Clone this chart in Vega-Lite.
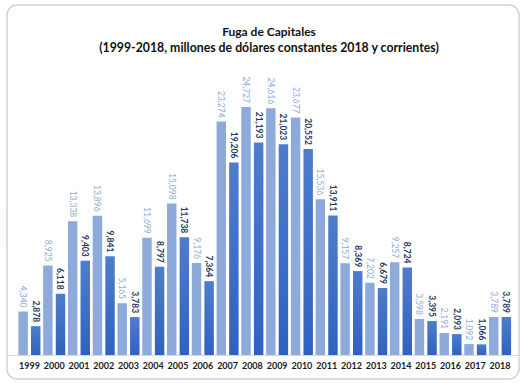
{
  "$schema": "https://vega.github.io/schema/vega-lite/v6.json",
  "width": 512,
  "height": 374,
  "autosize": {"type": "none"},
  "padding": {"left": 7, "top": 5, "right": 4, "bottom": 4},
  "background": "white",
  "config": {
    "font": "Lato",
    "view": {"stroke": "#d2d2d2", "strokeWidth": 1.5, "cornerRadius": 10}
  },
  "title": {
    "text": "Fuga de Capitales\u2002\u2002\u2002\u2002\u2002\u2002\u2002\u2002\u2002\u2002",
    "subtitle": "(1999-2018, millones de dólares constantes 2018 y corrientes)",
    "frame": "group",
    "anchor": "middle",
    "orient": "top",
    "offset": -50,
    "dx": 6,
    "font": "Lato",
    "fontSize": 12,
    "fontWeight": "bold",
    "color": "#111111",
    "subtitleFont": "Lato",
    "subtitleFontSize": 12.3,
    "subtitleFontWeight": "bold",
    "subtitleColor": "#111111",
    "subtitlePadding": 3
  },
  "data": {
    "values": [
      {"year": "1999", "serie": "constantes", "valor": 4340},
      {"year": "1999", "serie": "corrientes", "valor": 2878},
      {"year": "2000", "serie": "constantes", "valor": 8925},
      {"year": "2000", "serie": "corrientes", "valor": 6118},
      {"year": "2001", "serie": "constantes", "valor": 13338},
      {"year": "2001", "serie": "corrientes", "valor": 9403},
      {"year": "2002", "serie": "constantes", "valor": 13896},
      {"year": "2002", "serie": "corrientes", "valor": 9841},
      {"year": "2003", "serie": "constantes", "valor": 5165},
      {"year": "2003", "serie": "corrientes", "valor": 3783},
      {"year": "2004", "serie": "constantes", "valor": 11699},
      {"year": "2004", "serie": "corrientes", "valor": 8797},
      {"year": "2005", "serie": "constantes", "valor": 15098},
      {"year": "2005", "serie": "corrientes", "valor": 11738},
      {"year": "2006", "serie": "constantes", "valor": 9176},
      {"year": "2006", "serie": "corrientes", "valor": 7364},
      {"year": "2007", "serie": "constantes", "valor": 23274},
      {"year": "2007", "serie": "corrientes", "valor": 19206},
      {"year": "2008", "serie": "constantes", "valor": 24727},
      {"year": "2008", "serie": "corrientes", "valor": 21193},
      {"year": "2009", "serie": "constantes", "valor": 24616},
      {"year": "2009", "serie": "corrientes", "valor": 21023},
      {"year": "2010", "serie": "constantes", "valor": 23677},
      {"year": "2010", "serie": "corrientes", "valor": 20552},
      {"year": "2011", "serie": "constantes", "valor": 15536},
      {"year": "2011", "serie": "corrientes", "valor": 13911},
      {"year": "2012", "serie": "constantes", "valor": 9157},
      {"year": "2012", "serie": "corrientes", "valor": 8369},
      {"year": "2013", "serie": "constantes", "valor": 7202},
      {"year": "2013", "serie": "corrientes", "valor": 6679},
      {"year": "2014", "serie": "constantes", "valor": 9257},
      {"year": "2014", "serie": "corrientes", "valor": 8724},
      {"year": "2015", "serie": "constantes", "valor": 3598},
      {"year": "2015", "serie": "corrientes", "valor": 3395},
      {"year": "2016", "serie": "constantes", "valor": 2191},
      {"year": "2016", "serie": "corrientes", "valor": 2093},
      {"year": "2017", "serie": "constantes", "valor": 1092},
      {"year": "2017", "serie": "corrientes", "valor": 1066},
      {"year": "2018", "serie": "constantes", "valor": 3789},
      {"year": "2018", "serie": "corrientes", "valor": 3789}
    ]
  },
  "encoding": {
    "x": {
      "field": "year",
      "type": "nominal",
      "scale": {"paddingInner": 0.11, "paddingOuter": 0.39, "align": 0.59},
      "axis": {
        "title": null,
        "labelAngle": 0,
        "labelFont": "Lato",
        "labelFontWeight": "bold",
        "labelFontSize": 9,
        "labelColor": "#1a1a1a",
        "labelPadding": 6,
        "ticks": false,
        "domainColor": "#d9d9d9",
        "domainWidth": 1,
        "offset": -24
      }
    },
    "xOffset": {
      "field": "serie",
      "type": "nominal",
      "sort": ["constantes", "corrientes"],
      "scale": {"paddingInner": 0.25, "paddingOuter": 0}
    },
    "y": {
      "field": "valor",
      "type": "quantitative",
      "scale": {"domain": [-2390, 34900], "nice": false, "zero": false},
      "axis": null
    }
  },
  "layer": [
    {
      "transform": [{"filter": "datum.serie === 'constantes'"}],
      "mark": {"type": "bar", "color": "#8eaadb"},
      "encoding": {"y2": {"datum": 0}}
    },
    {
      "transform": [{"filter": "datum.serie === 'corrientes'"}],
      "mark": {
        "type": "bar",
        "color": {
          "gradient": "linear",
          "x1": 0, "y1": 0, "x2": 0, "y2": 1,
          "stops": [
            {"offset": 0, "color": "#4f7dcc"},
            {"offset": 1, "color": "#2f62c0"}
          ]
        }
      },
      "encoding": {"y2": {"datum": 0}}
    },
    {
      "transform": [{"filter": "datum.serie === 'constantes'"}],
      "mark": {"type": "text", "angle": 90, "align": "right", "baseline": "middle", "dx": -4, "fontSize": 8.5, "font": "Lato", "color": "#8eaadb"},
      "encoding": {"text": {"field": "valor", "type": "quantitative", "format": ","}}
    },
    {
      "transform": [{"filter": "datum.serie === 'corrientes'"}],
      "mark": {"type": "text", "angle": 90, "align": "right", "baseline": "middle", "dx": -4, "fontSize": 8.5, "font": "Lato", "fontWeight": "bold", "color": "#1f3864"},
      "encoding": {"text": {"field": "valor", "type": "quantitative", "format": ","}}
    }
  ]
}
